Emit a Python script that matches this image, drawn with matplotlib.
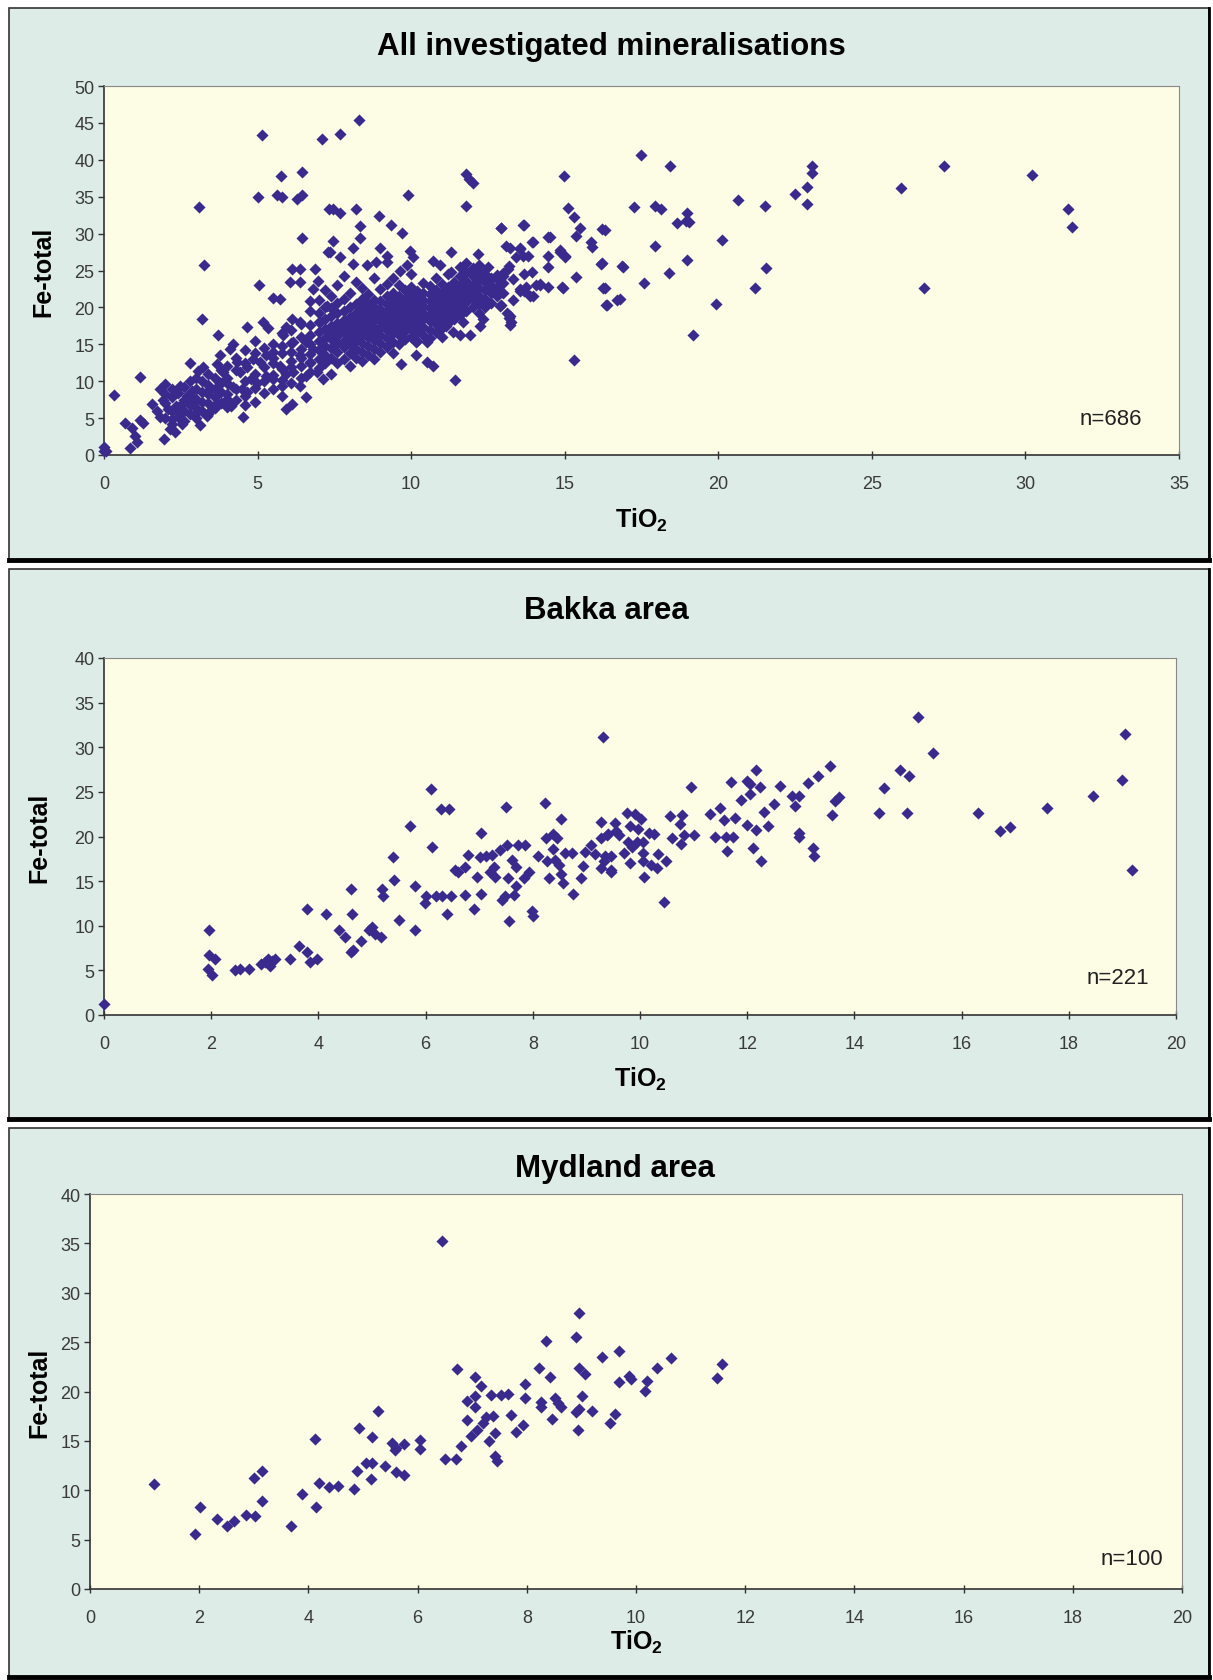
import numpy as np
import matplotlib.pyplot as plt
from matplotlib.patches import Rectangle

plt.rcParams['font.family'] = ['Liberation Sans', 'DejaVu Sans']
plt.rcParams['mathtext.fontset'] = 'custom'
plt.rcParams['mathtext.bf'] = 'Liberation Sans:bold'
plt.rcParams['mathtext.rm'] = 'Liberation Sans'

# ---- data (TiO2, Fe-total) ----
# all investigated mineralisations: scattered / edge points
all_points = [
    (0.0, 1.1), (0.0, 0.5), (0.07, 0.6), (0.32, 8.1), (0.68, 4.3), (0.9, 3.7), (1.17, 4.7), (1.28, 4.4),
    (1.01, 2.6), (0.85, 1.0), (1.06, 1.7), (1.17, 10.6), (1.55, 6.9), (1.98, 9.6), (1.82, 8.9), (1.93, 7.4),
    (2.09, 6.2), (1.71, 6.0), (1.82, 5.1), (2.15, 3.5), (2.31, 3.1), (2.2, 4.9), (2.47, 5.6), (2.47, 9.4),
    (2.69, 8.0), (2.85, 8.7), (3.12, 4.0), (3.34, 5.3), (2.80, 12.5), (3.06, 11.4), (3.23, 11.9), (3.67, 12.3),
    (3.88, 11.2), (3.45, 8.9), (3.77, 9.8), (4.05, 9.6), (4.21, 9.2), (4.43, 11.2), (4.64, 11.9), (4.86, 13.0),
    (5.07, 12.6), (5.29, 13.5), (5.51, 13.9), (4.53, 5.1), (4.48, 8.9), (4.64, 8.5), (4.80, 10.3), (4.97, 9.8),
    (5.29, 10.7), (5.51, 10.3), (5.78, 9.4), (5.94, 6.2), (6.11, 6.9), (6.38, 9.4), (6.59, 7.8), (5.83, 16.2),
    (6.16, 15.3), (6.59, 15.3), (6.81, 14.4), (6.38, 13.5), (6.70, 12.6), (6.16, 11.2), (6.59, 10.7), (6.92, 11.2),
    (7.14, 10.3), (5.73, 12.1), (5.94, 11.0), (7.03, 18.0), (7.25, 20.2), (7.03, 14.4), (2.36, 6.7), (2.58, 7.1),
    (2.91, 7.1), (3.02, 5.8), (3.51, 6.2), (3.67, 7.1), (3.99, 7.6), (4.15, 6.7), (3.77, 13.5), (4.32, 12.6),
    (4.1, 14.4), (2.53, 4.2), (1.94, 2.2),
    (5.13, 43.3), (7.11, 42.8), (5.76, 37.8), (6.45, 38.4), (5.0, 35.0), (5.62, 35.2), (5.78, 34.9), (6.27, 34.7),
    (6.46, 35.2), (3.09, 33.6), (7.33, 33.3), (6.45, 29.4), (7.30, 27.5), (3.26, 25.8), (6.11, 25.2), (6.38, 25.2),
    (6.87, 25.2), (6.05, 23.4), (6.38, 23.4), (6.97, 23.6), (5.05, 23.1), (5.51, 21.3), (5.73, 21.1), (6.70, 20.9),
    (6.81, 22.5), (3.20, 18.4), (4.64, 17.4), (5.18, 18.0), (5.35, 17.2), (3.72, 16.3), (4.21, 15.1), (6.11, 18.4),
    (5.94, 17.3), (6.38, 18.0),
    (8.31, 45.4), (7.68, 43.5), (9.90, 35.2), (11.80, 38.1), (12.02, 36.9), (11.80, 33.8), (7.46, 33.3), (7.68, 32.8),
    (8.20, 33.3), (8.96, 32.4), (9.36, 31.1), (9.69, 30.1), (8.33, 31.0), (8.33, 29.4), (7.46, 29.0), (8.11, 28.0),
    (7.35, 27.5), (7.68, 26.8), (8.98, 28.0), (9.20, 27.0), (8.11, 25.9), (8.55, 25.7), (8.87, 26.1), (9.20, 26.2),
    (9.96, 27.7), (10.07, 26.8), (9.63, 25.0), (9.85, 25.7), (10.72, 26.3), (10.93, 25.7), (11.31, 27.5), (12.18, 27.3),
    (11.31, 24.8), (12.94, 30.8), (13.64, 31.1), (13.97, 28.8), (14.51, 29.5), (13.21, 28.1), (13.53, 27.9), (13.64, 27.0),
    (12.04, 24.8), (12.2, 25.7), (12.34, 24.6), (12.5, 25.5), (12.78, 24.4), (12.94, 24.3), (13.15, 25.2), (13.53, 22.5),
    (13.75, 22.7), (13.97, 21.6), (14.19, 23.0), (11.69, 18.0), (11.91, 16.2), (12.23, 17.5), (12.34, 18.4), (12.88, 20.2),
    (13.21, 18.9), (13.26, 18.0), (11.15, 17.5), (11.37, 16.6), (11.59, 16.2), (10.17, 13.5), (10.5, 12.6), (10.72, 12.1),
    (9.68, 12.3), (11.44, 10.2), (10.17, 15.3), (10.5, 15.3), (10.82, 18.0), (11.04, 17.3),
    (11.89, 37.4), (13.66, 31.2), (13.95, 28.9), (14.46, 29.5), (14.97, 37.8), (15.10, 33.5), (15.30, 32.3), (15.49, 30.7),
    (13.08, 28.3), (13.43, 26.8), (13.56, 28.0), (13.79, 27.0), (14.46, 26.9), (14.85, 27.8), (15.01, 26.9), (15.36, 29.7),
    (15.84, 28.9), (15.90, 28.2), (16.19, 25.9), (16.26, 22.6), (16.22, 30.6), (15.36, 24.1), (14.91, 22.7), (14.46, 25.5),
    (13.95, 24.8), (13.69, 24.5), (13.66, 22.2), (13.88, 21.6), (13.56, 22.2), (14.07, 23.1), (14.46, 22.8), (13.18, 25.6),
    (13.0, 24.6), (12.92, 20.3), (13.13, 19.3), (13.18, 18.6), (13.21, 17.6), (16.39, 20.3), (15.30, 12.9), (16.30, 30.5),
    (14.84, 27.5), (15.0, 26.8), (14.19, 23.2), (14.95, 22.6), (16.21, 26.0), (16.30, 22.6), (16.90, 25.5), (16.36, 20.3),
    (16.69, 21.0), (16.87, 25.6), (16.80, 21.1), (12.92, 30.7),
    (17.48, 40.7), (18.44, 39.1), (17.25, 33.6), (17.93, 33.8), (18.15, 33.4), (18.98, 32.8), (18.94, 31.7), (18.66, 31.4),
    (19.04, 31.6), (17.93, 28.3), (20.64, 34.6), (21.51, 33.8), (20.13, 29.1), (22.49, 35.4), (22.88, 36.3), (22.88, 34.0),
    (23.04, 39.2), (23.04, 38.2), (25.95, 36.2), (27.35, 39.2), (30.20, 37.9), (31.38, 33.4), (31.51, 30.9), (17.57, 23.3),
    (18.40, 24.6), (18.98, 26.4), (19.91, 20.5), (21.21, 22.6), (21.56, 25.4), (19.17, 16.2), (26.69, 22.6),
]

# dense core of the first chart, read column by column (TiO2, list of Fe-total)
all_core = [
    (2.0, [5.0, 7.0, 8.2]), (2.2, [4.2, 6.0, 7.8, 9.0]), (2.4, [5.2, 6.5, 8.4]), (2.6, [4.6, 6.0, 7.4, 9.2]),
    (2.8, [5.5, 6.8, 8.0, 10.0]), (3.0, [5.0, 6.4, 7.6, 9.0, 10.4]), (3.2, [6.0, 7.2, 8.5, 10.0]),
    (3.4, [5.6, 7.0, 8.2, 9.5, 11.0]), (3.6, [6.4, 7.8, 9.0, 10.5]), (3.8, [7.0, 8.5, 9.8, 11.5]),
    (4.0, [6.5, 8.2, 10.5, 12.0]), (4.3, [7.5, 9.0, 11.5, 13.2]), (4.6, [6.8, 8.0, 10.0, 12.5, 14.2]),
    (4.9, [7.2, 9.1, 11.0, 13.8, 15.5]), (5.2, [8.4, 10.0, 11.9, 14.5]), (5.5, [9.0, 10.8, 12.4, 13.2, 15.0]),
    (5.8, [8.0, 10.2, 11.6, 13.8, 14.8, 16.5]), (6.1, [9.8, 11.9, 12.8, 14.0, 15.2, 17.0]),
    (6.4, [10.5, 12.0, 13.1, 14.3, 16.0, 17.8]), (6.7, [11.3, 12.5, 13.7, 15.1, 16.2, 17.6, 19.5]),
    (7.0, [11.8, 13.0, 14.2, 15.5, 16.7, 18.0, 19.3, 21.0]), (7.2, [12.4, 13.6, 14.8, 15.9, 17.1, 18.4, 20.1, 22.3]),
    (7.4, [11.0, 13.2, 14.5, 15.7, 16.4, 17.5, 18.8, 19.9, 21.5]),
    (7.6, [12.5, 14.0, 15.2, 16.1, 17.0, 17.9, 19.2, 20.6, 23.0]),
    (7.8, [13.0, 14.6, 15.5, 16.6, 17.4, 18.3, 19.5, 21.2, 24.2]),
    (8.0, [12.0, 13.8, 15.0, 16.0, 17.0, 17.8, 18.7, 20.0, 22.0]),
    (8.2, [13.1, 14.4, 15.6, 16.5, 17.5, 18.2, 19.3, 20.5, 23.5]),
    (8.4, [12.8, 14.0, 15.2, 16.2, 17.1, 18.0, 18.9, 19.8, 21.2, 22.6]),
    (8.6, [13.5, 14.8, 16.0, 16.9, 17.7, 18.6, 19.5, 20.4, 21.8]),
    (8.8, [13.0, 14.3, 15.6, 16.6, 17.4, 18.3, 19.2, 20.1, 21.0, 24.0]),
    (9.0, [14.0, 15.2, 16.3, 17.2, 18.1, 19.0, 19.8, 20.8, 22.5]),
    (9.2, [14.6, 15.8, 16.9, 17.8, 18.6, 19.5, 20.4, 21.5, 23.2]),
    (9.4, [13.8, 15.3, 16.5, 17.5, 18.3, 19.1, 20.0, 20.9, 22.0, 24.0]),
    (9.6, [15.0, 16.2, 17.2, 18.0, 18.9, 19.7, 20.6, 21.6, 23.0]),
    (9.8, [15.7, 16.8, 17.8, 18.6, 19.4, 20.3, 21.2, 22.4]),
    (10.0, [16.0, 17.2, 18.2, 19.0, 19.9, 20.8, 21.7, 22.8, 24.5]),
    (10.2, [15.5, 16.7, 17.8, 18.7, 19.6, 20.5, 21.4, 22.2]),
    (10.4, [16.3, 17.4, 18.4, 19.3, 20.2, 21.0, 22.0, 23.3]),
    (10.6, [15.8, 17.0, 18.1, 19.0, 19.9, 20.8, 21.8, 22.9]),
    (10.8, [16.6, 17.7, 18.8, 19.7, 20.6, 21.5, 22.4, 24.0]),
    (11.0, [16.0, 17.3, 18.5, 19.4, 20.3, 21.2, 22.1, 23.2]),
    (11.2, [17.9, 19.1, 20.0, 20.9, 21.8, 22.7, 24.5]), (11.4, [18.4, 19.6, 20.6, 21.5, 22.4, 23.5]),
    (11.6, [19.0, 20.2, 21.2, 22.1, 23.0, 24.2, 25.5]), (11.8, [19.5, 20.7, 21.7, 22.6, 23.6, 24.8, 26.0]),
    (12.0, [20.0, 21.1, 22.1, 23.1, 24.2, 25.3]), (12.2, [19.2, 20.5, 21.6, 22.6, 23.7, 24.9]),
    (12.4, [20.0, 21.2, 22.3, 23.4, 24.5]), (12.6, [20.6, 21.9, 23.0, 24.0]), (12.8, [21.5, 22.6, 23.8]),
    (13.0, [22.0, 23.3, 24.2]), (13.3, [21.0, 23.8]),
]

bakka_points = [
    (0.0, 1.2), (1.95, 9.5), (1.95, 6.7), (2.07, 6.3), (1.94, 5.1), (2.02, 4.5), (2.44, 5.0), (2.53, 5.1),
    (2.70, 5.1), (2.92, 5.7), (3.01, 5.9), (3.06, 6.3), (3.14, 6.1), (3.10, 5.5), (3.19, 6.3), (3.47, 6.3),
    (3.63, 7.7), (3.79, 11.9), (3.79, 7.1), (3.84, 5.9), (3.97, 6.3), (4.14, 11.3), (4.39, 9.5), (4.5, 8.7),
    (4.60, 14.1), (4.62, 11.3), (4.60, 7.1), (4.65, 7.3), (4.79, 8.3), (4.94, 9.5), (5.0, 9.9), (5.05, 9.1),
    (5.17, 8.7), (5.19, 14.1), (5.21, 13.3), (5.39, 17.7), (5.41, 15.1), (5.50, 10.7), (5.71, 21.2), (5.80, 14.5),
    (5.80, 9.5), (5.99, 12.5), (6.01, 13.3), (6.10, 25.3), (6.12, 18.8), (6.20, 13.3), (6.29, 23.1), (6.43, 23.1),
    (6.30, 13.3), (6.39, 11.3), (6.47, 13.3), (6.54, 16.2), (6.61, 16.0), (6.73, 16.6), (6.79, 17.9), (6.74, 13.4),
    (6.90, 11.9), (6.96, 15.5), (7.04, 20.4), (7.01, 17.7), (7.04, 13.6), (7.13, 17.8), (7.20, 16.0), (7.24, 17.9),
    (7.27, 16.6), (7.29, 15.5), (7.39, 18.5), (7.42, 12.9), (7.48, 13.3), (7.50, 23.3), (7.52, 19.0), (7.53, 15.4),
    (7.55, 10.5), (7.61, 17.4), (7.65, 13.5), (7.68, 16.6), (7.68, 14.5), (7.72, 19.0), (7.83, 15.3), (7.86, 19.0),
    (7.93, 16.0), (7.98, 11.7), (8.01, 11.1), (8.22, 23.7), (8.09, 17.8), (8.24, 19.8), (8.26, 17.2), (8.31, 15.3),
    (8.37, 20.3), (8.38, 18.6), (8.41, 17.4), (8.45, 19.8), (8.53, 22.0), (8.53, 15.8), (8.56, 14.8), (8.49, 16.8),
    (8.60, 18.2), (8.73, 18.2), (8.75, 13.6), (8.90, 15.4), (8.94, 16.7), (8.98, 18.3), (9.09, 19.0), (9.16, 18.0),
    (9.27, 21.6), (9.31, 31.1), (9.27, 16.5), (9.34, 17.8), (9.27, 19.8), (9.45, 16.0), (9.41, 20.3), (9.56, 20.6),
    (9.39, 20.2), (9.61, 20.2), (9.53, 21.5), (9.76, 22.6), (9.90, 22.5), (10.01, 22.0), (9.82, 21.2), (9.96, 20.8),
    (10.16, 20.4), (10.27, 20.3), (9.78, 19.4), (9.94, 19.4), (10.05, 19.4), (9.71, 18.2), (9.85, 18.8), (10.06, 18.2),
    (9.46, 17.8), (9.32, 17.2), (9.46, 16.2), (9.82, 17.0), (10.05, 17.2), (10.20, 16.8), (10.34, 18.0), (10.31, 16.5),
    (10.49, 17.3), (10.07, 15.5), (10.45, 12.7), (10.56, 22.3), (10.78, 22.4), (10.74, 21.4), (10.60, 19.8), (10.82, 20.2),
    (11.0, 20.2), (10.77, 19.2), (10.96, 25.5), (11.31, 22.5), (11.50, 23.2), (11.40, 19.9), (11.57, 21.8), (11.61, 20.0),
    (11.77, 22.1), (11.73, 20.0), (11.62, 18.4), (11.69, 26.1), (11.88, 24.1), (11.99, 26.2), (12.05, 25.9), (12.16, 27.4),
    (12.06, 24.8), (12.24, 25.5), (11.99, 21.3), (12.17, 20.7), (12.10, 18.7), (12.26, 17.3), (12.39, 21.2), (12.32, 22.7),
    (12.50, 23.6), (12.61, 25.7), (12.83, 24.5), (12.97, 24.5), (12.90, 23.4), (12.97, 20.4), (12.97, 20.0), (13.14, 26.0),
    (13.33, 26.8), (13.55, 27.9), (13.23, 18.7), (13.25, 17.8), (13.59, 22.4), (13.63, 24.0), (13.72, 24.4), (14.45, 22.6),
    (14.56, 25.4), (14.85, 27.5), (15.02, 26.8), (14.98, 22.6), (15.18, 33.4), (15.46, 29.3), (16.31, 22.6), (16.71, 20.6),
    (16.90, 21.1), (17.59, 23.2), (18.45, 24.5), (19.04, 31.5), (18.99, 26.3), (19.17, 16.2),
]

mydland_points = [
    (1.18, 10.6), (1.92, 5.6), (2.01, 8.3), (2.32, 7.1), (2.51, 6.4), (2.63, 6.9), (2.85, 7.5), (3.03, 7.4),
    (3.01, 11.2), (3.15, 12.0), (3.15, 8.9), (3.68, 6.4), (3.88, 9.6), (4.13, 15.2), (4.14, 8.3), (4.2, 10.7),
    (4.37, 10.3), (4.54, 10.4), (4.84, 10.1), (4.89, 12.0), (4.92, 16.3), (5.06, 12.8), (5.16, 12.8), (5.15, 11.1),
    (5.16, 15.4), (5.28, 18.0), (5.40, 12.5), (5.53, 14.8), (5.58, 14.1), (5.61, 11.8), (5.75, 11.5), (5.75, 14.7),
    (5.61, 14.3), (6.04, 15.1), (6.04, 14.2), (6.44, 35.2), (6.51, 13.2), (6.71, 13.2), (6.73, 22.3), (6.80, 14.5),
    (6.90, 17.1), (6.91, 19.0), (6.97, 15.5), (7.06, 21.5), (7.06, 18.4), (7.06, 19.5), (7.09, 16.1), (7.17, 20.6),
    (7.19, 16.8), (7.26, 17.4), (7.31, 15.0), (7.35, 19.6), (7.39, 17.5), (7.41, 15.8), (7.42, 13.5), (7.46, 13.0),
    (7.53, 19.6), (7.66, 19.7), (7.71, 17.6), (7.81, 15.9), (7.93, 16.6), (7.97, 19.3), (7.97, 20.8), (8.22, 22.4),
    (8.26, 18.9), (8.26, 18.4), (8.35, 25.1), (8.42, 21.5), (8.47, 17.2), (8.51, 19.3), (8.58, 18.8), (8.62, 18.4),
    (8.90, 25.5), (8.96, 28.0), (8.95, 22.4), (9.07, 21.8), (8.91, 17.9), (8.95, 18.2), (8.93, 16.1), (9.01, 19.5),
    (9.19, 18.0), (9.37, 23.5), (9.53, 16.8), (9.62, 17.7), (9.69, 24.1), (9.69, 21.0), (9.87, 21.6), (9.91, 21.3),
    (10.16, 20.1), (10.21, 21.1), (10.39, 22.4), (10.64, 23.4), (11.48, 21.4), (11.58, 22.8),
]

titles = ['All investigated mineralisations', 'Bakka area', 'Mydland area']
n_labels = ['n=686', 'n=221', 'n=100']
x_max = [35, 20, 20]
y_max = [50, 40, 40]

# expand the core columns into single points
core_pts = [(x, y) for x, ys in all_core for y in ys]
all_xy = np.array(all_points + core_pts)
bakka_xy = np.array(bakka_points)
myd_xy = np.array(mydland_points)
series = [all_xy, bakka_xy, myd_xy]

panel_bg = '#deece8'
plot_bg = '#fdfde6'
dot_col = '#3b2a8d'

W, H = 1213, 1681
fig = plt.figure(figsize=(W / 100, H / 100), dpi=100)
fig.patch.set_facecolor('white')

# panel boxes (pixel: left, top, right, bottom)
boxes = [(9, 9, 1209, 561), (9, 570, 1209, 1120), (9, 1129, 1209, 1678)]
for (l, t, r, b) in boxes:
    fig.patches.append(Rectangle((l / W, 1 - b / H), (r - l) / W, (b - t) / H, transform=fig.transFigure,
                                 facecolor=panel_bg, edgecolor='#333333', lw=1.2, zorder=-2))
    # dark shadow line at bottom / right
    fig.add_artist(plt.Line2D([l / W, r / W], [1 - b / H, 1 - b / H], transform=fig.transFigure,
                              color='black', lw=3.5, zorder=-1))
    fig.add_artist(plt.Line2D([r / W, r / W], [1 - b / H, 1 - t / H], transform=fig.transFigure,
                              color='black', lw=2, zorder=-1))

# axes (pixel: left, top, right, bottom)
axes_px = [(104, 87, 1179, 456), (104, 659, 1176, 1016), (90, 1195, 1182, 1590)]
title_px = [(611, 47), (606, 611), (615, 1169)]
ylab_x = [-0.045, -0.049, -0.035]
xlab_y = [-0.138, -0.14, -0.099]
n_pos = [(0.966, 0.098), (0.975, 0.106), (0.983, 0.076)]

for i in range(3):
    l, t, r, b = axes_px[i]
    ax = fig.add_axes([l / W, 1 - b / H, (r - l) / W, (b - t) / H])
    ax.set_facecolor(plot_bg)
    xy = series[i]
    ax.scatter(xy[:, 0], xy[:, 1], marker='D', s=38, color=dot_col, linewidths=0, clip_on=False, zorder=3)

    ax.set_xlim(0, x_max[i])
    ax.set_ylim(0, y_max[i])
    step = 5 if x_max[i] == 35 else 2
    ax.set_xticks(np.arange(0, x_max[i] + 1, step))
    ax.set_yticks(np.arange(0, y_max[i] + 1, 5))

    for s in ['left', 'bottom']:
        ax.spines[s].set_color('#333333')
        ax.spines[s].set_linewidth(1.2)
    for s in ['top', 'right']:
        ax.spines[s].set_color('#888888')
        ax.spines[s].set_linewidth(0.8)
        ax.spines[s].set_linestyle((0, (2, 1)))

    ax.tick_params(axis='x', direction='inout', length=6, width=1, colors='#333333',
                   labelsize=13, labelcolor='#3a3a3a', pad=11.5)
    ax.tick_params(axis='y', direction='out', length=4, width=1, colors='#333333',
                   labelsize=13, labelcolor='#3a3a3a', pad=3)

    ax.set_ylabel('Fe-total', fontsize=18, fontweight='bold')
    ax.yaxis.set_label_coords(ylab_x[i], 0.5)
    ax.set_xlabel(r'$\mathbf{TiO_2}$', fontsize=18)
    ax.xaxis.set_label_coords(0.5, xlab_y[i])

    ax.text(n_pos[i][0], n_pos[i][1], n_labels[i], transform=ax.transAxes, ha='right', va='center',
            fontsize=16, color='#222222')

    fig.text(title_px[i][0] / W, 1 - title_px[i][1] / H, titles[i], ha='center', va='center',
             fontsize=22.5, fontweight='bold')

fig.savefig('out.png', dpi=100, facecolor=fig.get_facecolor())
